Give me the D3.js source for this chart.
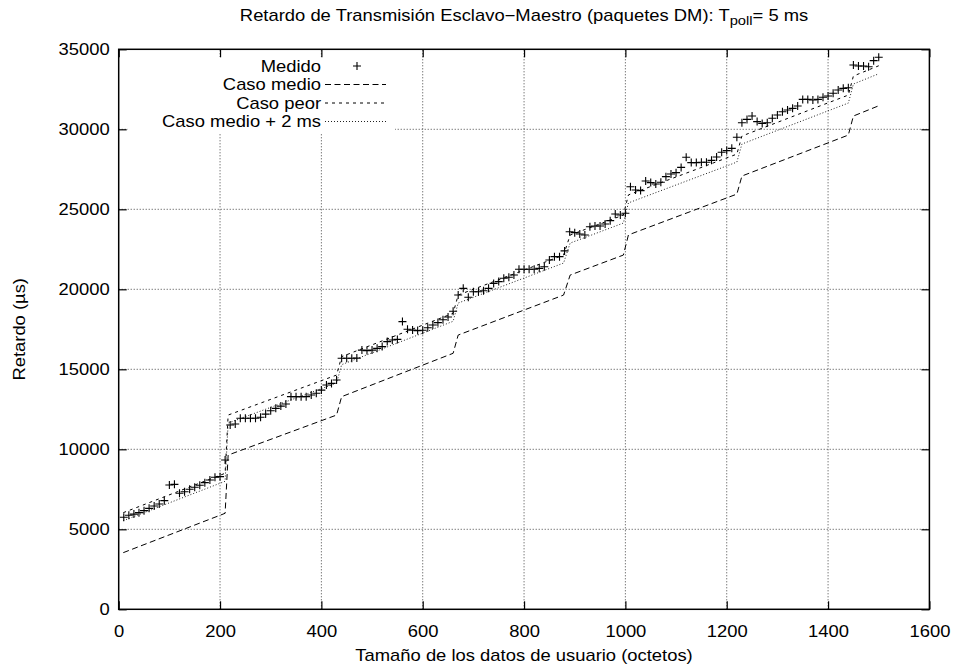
<!DOCTYPE html>
<html><head><meta charset="utf-8">
<script src="https://cdn.jsdelivr.net/npm/d3@7"></script>
<style>
body{margin:0;background:#fff}
text{font-family:"Liberation Sans",Arial,Helvetica,sans-serif;fill:#000}
</style>
</head><body><svg id="c" width="957" height="669"></svg>
<script>
// ---- data ----
const xTicks = [0,200,400,600,800,1000,1200,1400,1600];
const yTicks = [0,5000,10000,15000,20000,25000,30000,35000];
const xGrid = [200,400,600,800,1000,1200,1400];
const yGrid = [5000,10000,15000,20000,25000,30000];

const medidoX = [10,20,30,40,50,60,70,80,90,100,110,120,130,140,150,160,170,180,190,200,
210,220,230,240,250,260,270,280,290,300,310,320,330,340,350,360,370,380,390,400,
410,420,430,440,450,460,470,480,490,500,510,520,530,540,550,560,570,580,590,600,
610,620,630,640,650,660,670,680,690,700,710,720,730,740,750,760,770,780,790,800,
810,820,830,840,850,860,870,880,890,900,910,920,930,940,950,960,970,980,990,1000,
1010,1020,1030,1040,1050,1060,1070,1080,1090,1100,1110,1120,1130,1140,1150,1160,1170,1180,1190,1200,
1210,1220,1230,1240,1250,1260,1270,1280,1290,1300,1310,1320,1330,1340,1350,1360,1370,1380,1390,1400,
1410,1420,1430,1440,1450,1460,1470,1480,1490,1500];
const medidoY = [5750,5880,5950,6040,6165,6310,6456,6580,6790,7770,7810,7250,7350,7500,7625,7750,7915,8080,8250,8290,
9330,11520,11580,11940,11940,11940,11940,12000,12200,12410,12560,12700,12830,13290,13290,13290,13290,13390,13500,13700,
14020,14120,14330,15690,15690,15690,15700,16200,16170,16200,16310,16420,16730,16830,16870,17980,17500,17450,17420,17440,
17600,17770,17920,18100,18270,18630,19640,20060,19500,19850,19850,19910,20060,20370,20480,20690,20750,20890,21250,21250,
21250,21250,21310,21410,21830,22040,22040,22400,23600,23540,23460,23390,23910,23960,23960,24080,24290,24710,24640,24750,
26410,26210,26170,26770,26670,26580,26690,27040,27210,27290,27620,28250,27920,27920,27940,27940,28060,28270,28570,28670,
28810,29500,30410,30620,30830,30480,30370,30410,30690,30890,31100,31210,31310,31460,31870,31870,31830,31870,32000,32080,
32250,32460,32560,32600,34020,33960,33960,33910,34290,34500];

const lineX = [9,210,216,430,440,660,670,878,891,996,1006,1220,1230,1440,1450,1500];
const medioY = [3540,6000,9640,12140,13290,16000,17140,19640,20890,22140,23400,25950,27080,29640,30830,31470];
const peorY  = [6040,8500,12140,14640,15790,18500,19640,22140,23390,24640,25900,28450,29580,32140,33330,33970];
const mas2Y  = [5540,8000,11640,14140,15290,18000,19140,21640,22890,24140,25400,27950,29080,31640,32830,33470];

const legendLabels = ["Medido","Caso medio","Caso peor","Caso medio + 2 ms"];

// ---- layout ----
const svg = d3.select("#c");
const L = 118.7, R = 929.4, T = 49.3, B = 609.3;
const x = d3.scaleLinear().domain([0,1600]).range([L,R]);
const y = d3.scaleLinear().domain([0,35000]).range([B,T]);
const FS = 16, SX = 1.15;   // glyphs in the reference are slightly wide

// grid
const grid = svg.append("g").attr("stroke","#444").attr("stroke-width",1).attr("stroke-dasharray","1,2");
xGrid.forEach(v=>grid.append("line").attr("x1",x(v)).attr("x2",x(v)).attr("y1",B).attr("y2",T));
yGrid.forEach(v=>grid.append("line").attr("x1",L).attr("x2",R).attr("y1",y(v)).attr("y2",y(v)));

// legend blanking area (opaque key)
svg.append("rect").attr("x",128).attr("y",57).attr("width",267).attr("height",76).attr("fill","#fff");

// axes with inward ticks on all sides
const axB = svg.append("g").attr("transform",`translate(0,${B})`)
  .call(d3.axisBottom(x).tickValues(xTicks).tickSize(-8).tickPadding(16).tickFormat(d3.format("d")));
const axT = svg.append("g").attr("transform",`translate(0,${T})`)
  .call(d3.axisTop(x).tickValues(xTicks).tickSize(-8).tickFormat(""));
const axL = svg.append("g").attr("transform",`translate(${L},0)`)
  .call(d3.axisLeft(y).tickValues(yTicks).tickSize(-8).tickPadding(9).tickFormat(d3.format("d")));
const axR = svg.append("g").attr("transform",`translate(${R},0)`)
  .call(d3.axisRight(y).tickValues(yTicks).tickSize(-8).tickFormat(""));
[axB,axT,axL,axR].forEach(a=>{
  a.select(".domain").remove();
  a.selectAll(".tick line").attr("stroke","#000").attr("stroke-width",1.2);
  a.selectAll("text").attr("font-size",FS).attr("font-family",null);
});
axB.selectAll(".tick text").attr("transform",`scale(${SX},1)`);
axL.selectAll(".tick text").attr("x",-9/SX).attr("transform",`scale(${SX},1)`);

// border
svg.append("rect").attr("x",L).attr("y",T).attr("width",R-L).attr("height",B-T)
  .attr("fill","none").attr("stroke","#000").attr("stroke-width",1.5);

// lines
const mk = ys => d3.line().x((d,i)=>x(lineX[i])).y(d=>y(d))(ys);
svg.append("path").attr("d",mk(medioY)).attr("fill","none").attr("stroke","#000").attr("stroke-width",1).attr("stroke-dasharray","6,3.5");
svg.append("path").attr("d",mk(peorY)).attr("fill","none").attr("stroke","#000").attr("stroke-width",1).attr("stroke-dasharray","3,4");
svg.append("path").attr("d",mk(mas2Y)).attr("fill","none").attr("stroke","#222").attr("stroke-width",1).attr("stroke-dasharray","1,2");

// markers
const plus = (g,cx,cy)=>g.append("path").attr("d",`M${cx-4},${cy}H${cx+4}M${cx},${cy-4}V${cy+4}`)
  .attr("stroke","#000").attr("stroke-width",1.1).attr("fill","none");
const mg = svg.append("g");
medidoX.forEach((v,i)=>plus(mg,x(v),y(medidoY[i])));

// legend
const lg = svg.append("g");
const rowsY = [66,84.5,103,121.5];
const sx1 = 325, sx2 = 386, tx = 321;
legendLabels.forEach((t,i)=>{
  lg.append("text").attr("transform",`translate(${tx},${rowsY[i]}) scale(${SX},1)`)
    .attr("dy","0.35em").attr("text-anchor","end").attr("font-size",FS).text(t);
});
plus(lg,357,rowsY[0]);
lg.append("line").attr("x1",sx1).attr("x2",sx2).attr("y1",rowsY[1]).attr("y2",rowsY[1]).attr("stroke","#000").attr("stroke-dasharray","6,3.5");
lg.append("line").attr("x1",sx1).attr("x2",sx2).attr("y1",rowsY[2]).attr("y2",rowsY[2]).attr("stroke","#000").attr("stroke-dasharray","3,4");
lg.append("line").attr("x1",sx1).attr("x2",sx2).attr("y1",rowsY[3]).attr("y2",rowsY[3]).attr("stroke","#222").attr("stroke-dasharray","1,2");

// titles
const title = svg.append("text").attr("transform",`translate(${(L+R)/2},21) scale(${SX},1)`)
  .attr("text-anchor","middle").attr("font-size",FS);
title.append("tspan").text("Retardo de Transmisión Esclavo−Maestro (paquetes DM): T");
title.append("tspan").attr("font-size",FS*0.8).attr("dy",4).text("poll");
title.append("tspan").attr("dy",-4).text("= 5 ms");

svg.append("text").attr("transform",`translate(${(L+R)/2},661) scale(${SX},1)`).attr("text-anchor","middle").attr("font-size",FS)
  .text("Tamaño de los datos de usuario (octetos)");
svg.append("text").attr("transform",`translate(25,${(T+B)/2}) rotate(-90) scale(${SX},1)`).attr("text-anchor","middle").attr("font-size",FS)
  .text("Retardo (µs)");
</script></body></html>
